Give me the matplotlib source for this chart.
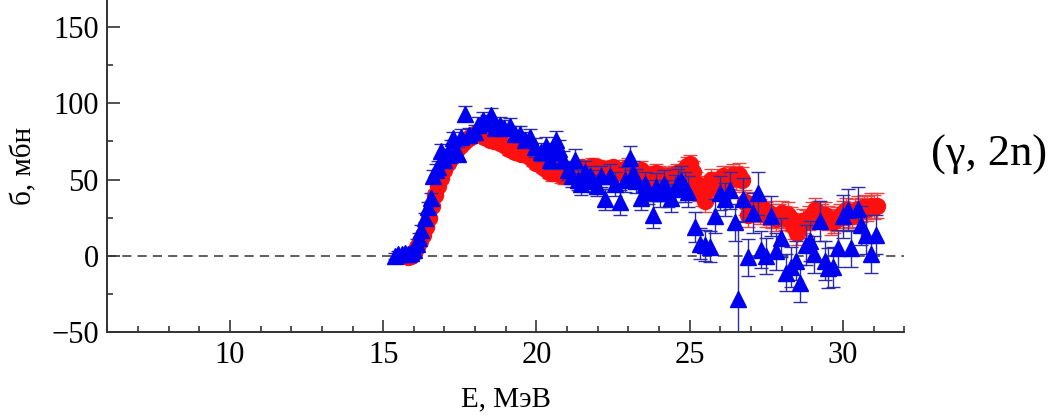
"""
Сечение реакции (γ, 2n): две серии точек с погрешностями.
Сохраняет рисунок в out.png.
"""

from __future__ import annotations

import matplotlib

matplotlib.use("Agg")
import matplotlib.pyplot as plt
from matplotlib.ticker import MultipleLocator

# Красная серия (кружки)
red_energy = [
    15.8, 15.9, 16.0, 16.1, 16.2, 16.3, 16.4, 16.5, 16.6, 16.7,
    16.8, 16.9, 17.0, 17.1, 17.2, 17.3, 17.4, 17.5, 17.6, 17.7,
    17.8, 17.9, 18.0, 18.1, 18.2, 18.3, 18.4, 18.5, 18.6, 18.7,
    18.8, 18.9, 19.0, 19.1, 19.2, 19.3, 19.4, 19.5, 19.6, 19.7,
    19.8, 19.9, 20.0, 20.1, 20.2, 20.3, 20.4, 20.5, 20.6, 20.7,
    20.8, 20.9, 21.0, 21.1, 21.2, 21.3, 21.4, 21.5, 21.6, 21.7,
    21.8, 21.9, 22.0, 22.1, 22.2, 22.3, 22.4, 22.5, 22.6, 22.7,
    22.8, 22.9, 23.0, 23.1, 23.2, 23.3, 23.4, 23.5, 23.6, 23.7,
    23.8, 23.9, 24.0, 24.1, 24.2, 24.3, 24.4, 24.5, 24.6, 24.7,
    24.8, 24.9, 25.0, 25.1, 25.2, 25.3, 25.4, 25.5, 25.6, 25.7,
    25.8, 25.9, 26.0, 26.1, 26.2, 26.3, 26.4, 26.5, 26.6, 26.7,
    26.8, 26.9, 27.0, 27.1, 27.2, 27.3, 27.4, 27.5, 27.6, 27.7,
    27.8, 27.9, 28.0, 28.1, 28.2, 28.3, 28.4, 28.5, 28.6, 28.7,
    28.8, 28.9, 29.0, 29.1, 29.2, 29.3, 29.4, 29.5, 29.6, 29.7,
    29.8, 29.9, 30.0, 30.1, 30.2, 30.3, 30.4, 30.5, 30.6, 30.7,
    30.8, 30.9, 31.0, 31.1,
]
red_sigma = [
    -1, 0, 2, 6, 10, 14, 19, 25, 33, 40,
    46, 51, 56, 61, 64, 67, 70, 72, 74, 76,
    77, 79, 80, 81, 80, 78, 77, 76, 75, 75,
    74, 73, 72, 70, 70, 68, 69, 67, 67, 68,
    65, 63, 61, 60, 58, 57, 55, 54, 56, 55,
    53, 52, 54, 56, 54, 55, 57, 58, 56, 57,
    59, 57, 58, 56, 57, 55, 57, 58, 55, 56,
    54, 57, 58, 55, 53, 54, 56, 52, 53, 52,
    51, 54, 53, 52, 50, 52, 51, 53, 54, 52,
    56, 59, 60, 55, 48, 43, 40, 36, 45, 50,
    48, 44, 47, 52, 50, 51, 53, 51, 53, 50,
    35, 27, 31, 34, 30, 29, 31, 27, 28, 26,
    24, 26, 28, 25, 27, 24, 19, 15, 20, 23,
    22, 25, 27, 30, 28, 26, 27, 25, 22, 23,
    24, 26, 28, 30, 27, 26, 29, 31, 30, 32,
    31, 33, 32, 33,
]
red_error = [
    2, 2, 2, 2, 2, 2, 2, 3, 3, 3,
    3, 3, 3, 3, 3, 3, 3, 3, 3, 3,
    3, 3, 3, 3, 3, 3, 3, 3, 3, 3,
    3, 3, 4, 4, 4, 4, 4, 4, 4, 4,
    4, 4, 4, 4, 4, 4, 4, 5, 5, 5,
    5, 5, 5, 5, 5, 5, 5, 5, 5, 5,
    5, 5, 5, 5, 5, 5, 5, 5, 5, 5,
    5, 6, 6, 6, 6, 6, 6, 6, 6, 6,
    6, 6, 6, 6, 6, 6, 6, 6, 6, 6,
    6, 6, 6, 7, 7, 7, 7, 7, 7, 7,
    7, 7, 7, 7, 7, 7, 7, 8, 8, 8,
    8, 8, 8, 8, 8, 8, 8, 8, 8, 8,
    8, 8, 8, 8, 8, 8, 8, 8, 8, 8,
    8, 8, 8, 8, 8, 8, 8, 8, 8, 8,
    8, 8, 8, 8, 8, 8, 8, 8, 8, 8,
    8, 8, 8, 8,
]

# Синяя серия (треугольники)
blue_energy = [
    15.40, 15.50, 15.60, 15.70, 15.80, 15.90, 16.00, 16.09, 16.18, 16.25,
    16.36, 16.47, 16.55, 16.63, 16.72, 16.79, 16.90, 17.00, 17.10, 17.20,
    17.28, 17.44, 17.55, 17.66, 17.80, 17.99, 18.10, 18.26, 18.40, 18.53,
    18.65, 18.80, 18.95, 19.13, 19.30, 19.46, 19.62, 19.79, 19.95, 20.16,
    20.30, 20.43, 20.55, 20.65, 20.75, 20.87, 21.03, 21.15, 21.25, 21.37,
    21.47, 21.60, 21.74, 21.85, 21.96, 22.10, 22.23, 22.39, 22.55, 22.72,
    22.88, 23.04, 23.15, 23.26, 23.42, 23.53, 23.64, 23.80, 23.90, 24.02,
    24.15, 24.29, 24.40, 24.51, 24.62, 24.73, 24.84, 24.94, 25.16, 25.32,
    25.49, 25.65, 25.81, 25.98, 26.14, 26.30, 26.47, 26.58, 26.74, 26.90,
    27.06, 27.22, 27.34, 27.50, 27.66, 27.83, 27.99, 28.15, 28.32, 28.48,
    28.59, 28.80, 28.91, 29.07, 29.24, 29.40, 29.51, 29.67, 29.84, 30.00,
    30.16, 30.27, 30.49, 30.60, 30.76, 30.92, 31.09,
]
blue_sigma = [
    0, 1, 1, 2, 1, 2, 4, 8, 12, 17,
    25, 32, 38, 52, 56, 58, 69, 63, 66, 72,
    77, 67, 78, 93, 79, 81, 86, 89, 87, 92,
    84, 86, 84, 85, 80, 80, 76, 78, 71, 68,
    72, 63, 68, 76, 70, 63, 56, 52, 63, 50,
    47, 55, 52, 49, 46, 52, 37, 52, 47, 35,
    50, 64, 54, 49, 38, 47, 42, 27, 45, 41,
    47, 41, 38, 44, 48, 49, 45, 42, 19, 8,
    7, 6, 26, 41, 37, 43, 22, -28, 37, -1,
    28, 41, 4, 0, 26, 3, 12, -11, -7, -3,
    -18, 7, 10, 1, 23, -3, -8, -7, 5, 26,
    30, 5, 31, 20, 14, 1, 14,
]
blue_error = [
    2, 2, 2, 2, 2, 2, 2, 3, 3, 3,
    3, 3, 3, 4, 4, 4, 4, 4, 4, 4,
    4, 4, 5, 5, 5, 5, 5, 5, 5, 5,
    5, 5, 5, 5, 5, 5, 5, 5, 6, 6,
    6, 6, 6, 6, 6, 6, 6, 7, 7, 7,
    7, 7, 7, 7, 7, 7, 7, 8, 8, 8,
    8, 8, 8, 8, 8, 8, 8, 9, 9, 9,
    9, 9, 9, 9, 9, 10, 10, 10, 10, 10,
    10, 10, 11, 11, 11, 12, 12, 50, 14, 12,
    13, 14, 12, 12, 13, 12, 13, 12, 13, 13,
    12, 13, 13, 12, 13, 13, 13, 13, 12, 14,
    14, 12, 14, 13, 13, 12, 13,
]

x_ticks = [10, 15, 20, 25, 30]
y_ticks = [-50, 0, 50, 100, 150]


def build_plot(output_path: str = "out.png") -> None:
    plt.rcParams["font.family"] = ["Liberation Serif", "DejaVu Serif"]

    fig = plt.figure(figsize=(10.57, 4.17), dpi=100)
    ax = fig.add_axes([0.1015, 0.203, 0.754, 0.797])

    # Нулевой уровень
    ax.axhline(0, color="#333333", lw=1.1, ls=(0, (6, 4)), zorder=1)

    ax.errorbar(
        red_energy, red_sigma, yerr=red_error,
        fmt="o", ms=11.5, color="#ff1010", mec="#ff1010",
        ecolor="#e84545", elinewidth=1.0, capsize=5, capthick=1.0, zorder=2,
    )
    ax.errorbar(
        blue_energy, blue_sigma, yerr=blue_error,
        fmt="^", ms=11, color="#0000f0", mec="#0000f0",
        ecolor="#2c2ca8", elinewidth=1.0, capsize=5, capthick=1.0, zorder=3,
    )

    ax.set_xlim(6, 32)
    ax.set_ylim(-50, 167.5)
    ax.set_xticks(x_ticks)
    ax.set_yticks(y_ticks)
    ax.xaxis.set_minor_locator(MultipleLocator(1))
    ax.yaxis.set_minor_locator(MultipleLocator(25))

    ax.spines["top"].set_visible(False)
    ax.spines["right"].set_visible(False)
    for side in ("left", "bottom"):
        ax.spines[side].set_color("#333333")
        ax.spines[side].set_linewidth(1.4)

    ax.tick_params(which="both", direction="in", colors="#333333", width=1.2,
                   labelcolor="black", labelsize=22)
    ax.tick_params(which="major", length=9, pad=6)
    ax.tick_params(which="minor", length=4.5)

    ax.set_xlabel("E, МэВ", fontsize=21, labelpad=12)
    ax.set_ylabel("б, мбн", fontsize=21, labelpad=10)

    fig.text(0.936, 0.628, "(γ, 2n)", fontsize=32, ha="center", va="center")

    fig.savefig(output_path, dpi=100)
    plt.close(fig)


if __name__ == "__main__":
    build_plot()
